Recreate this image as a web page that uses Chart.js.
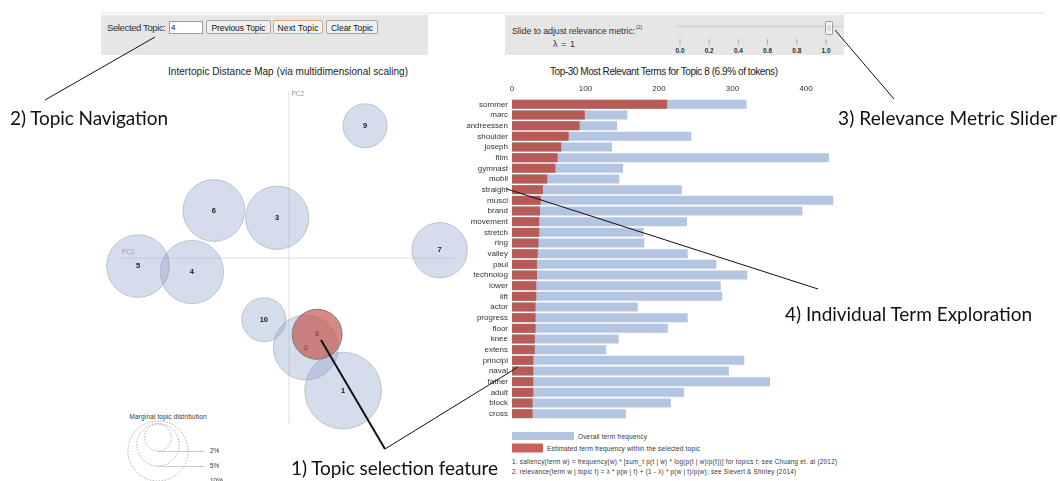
<!DOCTYPE html>
<html>
<head>
<meta charset="utf-8">
<script src="https://cdn.jsdelivr.net/npm/chart.js@4.4.1/dist/chart.umd.min.js"></script>
<style>
  body { margin: 0; width: 1060px; height: 481px; background: #fff; position: relative; overflow: hidden;
         font-family: "Liberation Sans", Arial, sans-serif; }
  #mapBox { position: absolute; left: 90px; top: 85px; width: 380px; height: 396px; }
  #barBox { position: absolute; left: 440px; top: 78px; width: 396px; height: 342px; }
  svg { position: absolute; left: 0; top: 0; }
  .lbl { font-family: "Liberation Sans", Arial, sans-serif; }
  .note { font-family: Lato, "Open Sans", sans-serif; font-size: 19px; fill: #111; }
</style>
</head>
<body>

<!-- controls, titles, bar legend and footnotes -->
<svg width="1060" height="481">
  <line x1="100" y1="13" x2="1045" y2="13" stroke="#e2e2e2" stroke-width="1"/>

  <rect x="101" y="15" width="327" height="40" fill="#e6e6e6"/>
  <text class="lbl" x="107" y="27" font-size="9.5" fill="#333" dominant-baseline="central" textLength="59">Selected Topic:</text>
  <rect x="169.5" y="21.5" width="33" height="12" fill="#fff" stroke="#9a9a9a"/>
  <text class="lbl" x="171" y="27.5" font-size="8" fill="#111" dominant-baseline="central">4</text>
  <rect x="206.5" y="20.5" width="64" height="13" rx="1.5" fill="#efefef" stroke="#a5a5a5"/>
  <text class="lbl" x="238.5" y="27.5" font-size="8.5" fill="#111" text-anchor="middle" dominant-baseline="central" textLength="54">Previous Topic</text>
  <rect x="273.5" y="20.5" width="49" height="13" rx="1.5" fill="#f2f2f2" stroke="#e2a47e"/>
  <text class="lbl" x="298" y="27.5" font-size="8.5" fill="#111" text-anchor="middle" dominant-baseline="central" textLength="41">Next Topic</text>
  <rect x="326.5" y="20.5" width="51" height="13" rx="1.5" fill="#efefef" stroke="#a5a5a5"/>
  <text class="lbl" x="352" y="27.5" font-size="8.5" fill="#111" text-anchor="middle" dominant-baseline="central" textLength="42">Clear Topic</text>

  <rect x="505" y="15" width="339" height="40" fill="#e6e6e6"/>
  <text class="lbl" x="512" y="30.5" font-size="9" fill="#333" dominant-baseline="central" textLength="123">Slide to adjust relevance metric:</text>
  <text class="lbl" x="636" y="27" font-size="5" fill="#333" dominant-baseline="central">(2)</text>
  <text class="lbl" x="553" y="43.5" font-size="9" fill="#333" dominant-baseline="central" textLength="22">λ = 1</text>
  <line x1="675" y1="26.5" x2="843" y2="26.5" stroke="#d6d6d6" stroke-width="2"/>
  <g id="sliderTicks"></g>
  <rect x="825.5" y="21.5" width="7" height="13" rx="1" fill="#f6f6f6" stroke="#9a9a9a"/>
  <line x1="827" y1="26" x2="831" y2="26" stroke="#aaa" stroke-width="0.6"/>
  <line x1="827" y1="28" x2="831" y2="28" stroke="#aaa" stroke-width="0.6"/>
  <line x1="827" y1="30" x2="831" y2="30" stroke="#aaa" stroke-width="0.6"/>

  <text class="lbl" x="288" y="71" font-size="10" fill="#222" text-anchor="middle" dominant-baseline="central" textLength="240">Intertopic Distance Map (via multidimensional scaling)</text>
  <text class="lbl" x="664" y="71" font-size="10" fill="#222" text-anchor="middle" dominant-baseline="central" textLength="228">Top-30 Most Relevant Terms for Topic 8 (6.9% of tokens)</text>

  <text class="lbl" x="168" y="416" font-size="6.5" fill="#333" text-anchor="middle" dominant-baseline="central" textLength="77">Marginal topic distribution</text>

  <rect x="512" y="432" width="62" height="8" fill="#b4c5e2"/>
  <text class="lbl" x="578" y="436" font-size="6.5" fill="#333" dominant-baseline="central" textLength="69">Overall term frequency</text>
  <rect x="512" y="443.5" width="31" height="9" fill="#c8625a"/>
  <text class="lbl" x="547" y="448" font-size="6.5" fill="#333" dominant-baseline="central" textLength="153">Estimated term frequency within the selected topic</text>
  <text class="lbl" x="512" y="461.5" font-size="6.3" fill="#333" dominant-baseline="central" textLength="325">1. saliency(term w) = frequency(w) * [sum_t p(t | w) * log(p(t | w)/p(t))] for topics t; see Chuang et. al (2012)</text>
  <text class="lbl" x="512" y="471.5" font-size="6.3" fill="#333" dominant-baseline="central" textLength="284">2. relevance(term w | topic t) = λ * p(w | t) + (1 - λ) * p(w | t)/p(w); see Sievert &amp; Shirley (2014)</text>
</svg>

<div id="mapBox"><canvas id="mapChart"></canvas></div>
<div id="barBox"><canvas id="barChart"></canvas></div>

<!-- callout annotations -->
<svg width="1060" height="481" style="pointer-events:none">
  <line x1="45" y1="100" x2="155" y2="37" stroke="#111" stroke-width="1"/>
  <line x1="835" y1="30" x2="894" y2="99" stroke="#111" stroke-width="1"/>
  <line x1="507" y1="189" x2="818" y2="289" stroke="#111" stroke-width="1"/>
  <line x1="385" y1="449" x2="321" y2="340" stroke="#111" stroke-width="2"/>
  <line x1="385" y1="449" x2="518" y2="367" stroke="#111" stroke-width="1"/>
  <text class="note" x="10" y="117" dominant-baseline="central" textLength="158">2) Topic Navigation</text>
  <text class="note" x="838" y="117" dominant-baseline="central" textLength="219">3) Relevance Metric Slider</text>
  <text class="note" x="785" y="313" dominant-baseline="central" textLength="247">4) Individual Term Exploration</text>
  <text class="note" x="291" y="467" dominant-baseline="central" textLength="207">1) Topic selection feature</text>
</svg>

<script>
// relevance slider ticks
const lambdaTicks = ['0.0', '0.2', '0.4', '0.6', '0.8', '1.0'];

// topics on the intertopic map (PC1 / PC2 coordinates, share of tokens in %)
const topicIds = ['1', '2', '3', '4', '5', '6', '7', '8', '9', '10'];
const topicPC1 = [0.082, 0.026, -0.017, -0.145, -0.226, -0.112, 0.227, 0.043, 0.115, -0.037];
const topicPC2 = [-0.201, -0.136, 0.060, -0.022, -0.013, 0.071, 0.011, -0.116, 0.199, -0.094];
const topicShare = [16.3, 11.7, 11.1, 11.1, 10.9, 10.6, 8.5, 6.9, 5.4, 5.4];
const selectedTopic = '8';
const marginalLegend = [2, 5, 10];

// top-30 terms for topic 8
const terms = ['sommer', 'marc', 'andreessen', 'shoulder', 'joseph', 'film', 'gymnast', 'mobil', 'straight', 'muscl',
  'brand', 'movement', 'stretch', 'ring', 'valley', 'paul', 'technolog', 'lower', 'lift', 'actor',
  'progress', 'floor', 'knee', 'extens', 'principl', 'naval', 'father', 'adult', 'block', 'cross'];
const overallFreq = [319, 157, 143, 244, 136, 431, 151, 146, 231, 437,
  395, 238, 179, 180, 239, 278, 320, 284, 286, 171,
  239, 212, 145, 128, 316, 295, 351, 234, 216, 155];
const topicFreq = [211, 99, 92, 77, 67, 62, 59, 48, 42, 39,
  38, 37, 37, 36, 35, 34, 34, 33, 33, 32,
  32, 32, 31, 31, 29, 29, 29, 29, 28, 28];

Chart.defaults.font.family = '"Liberation Sans", Arial, sans-serif';

// slider tick marks
const ns = 'http://www.w3.org/2000/svg';
const tg = document.getElementById('sliderTicks');
lambdaTicks.forEach((t, i) => {
  const x = 680 + i * 29.2;
  const l = document.createElementNS(ns, 'line');
  l.setAttribute('x1', x); l.setAttribute('x2', x);
  l.setAttribute('y1', 39); l.setAttribute('y2', 45);
  l.setAttribute('stroke', '#aaa');
  tg.appendChild(l);
  const tx = document.createElementNS(ns, 'text');
  tx.setAttribute('x', x); tx.setAttribute('y', 50.5);
  tx.setAttribute('text-anchor', 'middle');
  tx.setAttribute('dominant-baseline', 'central');
  tx.setAttribute('font-size', '6.5');
  tx.setAttribute('font-weight', 'bold');
  tx.setAttribute('fill', '#333');
  tx.setAttribute('class', 'lbl');
  tx.textContent = t;
  tg.appendChild(tx);
});

// bubble radius from share of tokens (area proportional)
const radiusFor = share => 9.5 * Math.sqrt(share);

const selectedPts = [], otherPts = [];
topicIds.forEach((id, i) => {
  const p = { x: topicPC1[i], y: topicPC2[i], r: radiusFor(topicShare[i]), id: id };
  (id === selectedTopic ? selectedPts : otherPts).push(p);
});

// PC axes and their labels
const pcAxes = {
  id: 'pcAxes',
  beforeDatasetsDraw(chart) {
    const { ctx, chartArea: a, scales } = chart;
    const x0 = scales.x.getPixelForValue(0);
    const y0 = scales.y.getPixelForValue(0);
    ctx.save();
    ctx.strokeStyle = '#dcdcdc';
    ctx.lineWidth = 1;
    ctx.beginPath();
    ctx.moveTo(a.left, y0 + 0.5); ctx.lineTo(a.right, y0 + 0.5);
    ctx.moveTo(x0 + 0.5, a.top); ctx.lineTo(x0 + 0.5, a.bottom);
    ctx.stroke();
    ctx.fillStyle = '#999';
    ctx.font = '6.5px "Liberation Sans", Arial, sans-serif';
    ctx.textBaseline = 'middle';
    ctx.fillText('PC1', a.left, y0 - 5);
    ctx.fillText('PC2', x0 + 3, a.top + 2.5);
    ctx.restore();
  }
};

// topic numbers, drawn just before the selected circle so it tints them
const topicLabels = {
  id: 'topicLabels',
  beforeDatasetDraw(chart, args) {
    if (args.index !== 0) return;
    const ctx = chart.ctx;
    ctx.save();
    ctx.font = 'bold 7.5px "Liberation Sans", Arial, sans-serif';
    ctx.textAlign = 'center';
    ctx.textBaseline = 'middle';
    ctx.fillStyle = '#1a1a1a';
    [0, 1].forEach(di => {
      const meta = chart.getDatasetMeta(di);
      meta.data.forEach((el, j) => {
        const pt = chart.data.datasets[di].data[j];
        ctx.fillText(pt.id, el.x, el.y);
      });
    });
    ctx.restore();
  }
};

// marginal topic distribution legend (dotted circles)
const marginalKey = {
  id: 'marginalKey',
  afterDraw(chart) {
    const ctx = chart.ctx;
    const cx = 68;
    ctx.save();
    ctx.font = '6.5px "Liberation Sans", Arial, sans-serif';
    ctx.textBaseline = 'middle';
    marginalLegend.forEach((v, i) => {
      const r = radiusFor(v);
      const bottom = 366 + i * 15;
      ctx.strokeStyle = '#aaa';
      ctx.setLineDash([1.5, 1.5]);
      ctx.beginPath();
      ctx.arc(cx, bottom - r, r, 0, Math.PI * 2);
      ctx.stroke();
      ctx.setLineDash([]);
      ctx.strokeStyle = '#ccc';
      ctx.beginPath();
      ctx.moveTo(cx, bottom + 0.5); ctx.lineTo(115, bottom + 0.5);
      ctx.stroke();
      ctx.fillStyle = '#333';
      ctx.fillText(v + '%', 120, bottom);
    });
    ctx.restore();
  }
};

new Chart(document.getElementById('mapChart'), {
  type: 'bubble',
  data: {
    datasets: [
      { data: selectedPts, backgroundColor: 'rgba(196,88,78,0.7)', borderColor: '#7a7a7a', borderWidth: 1, order: 0, clip: false },
      { data: otherPts, backgroundColor: 'rgba(145,163,202,0.38)', borderColor: 'rgba(120,135,165,0.4)', borderWidth: 1, order: 1, clip: false }
    ]
  },
  options: {
    responsive: true,
    maintainAspectRatio: false,
    animation: false,
    events: [],
    layout: { autoPadding: false, padding: { left: 32, right: 15, top: 7, bottom: 58 } },
    plugins: { legend: { display: false }, tooltip: { enabled: false } },
    scales: {
      x: { display: false, min: -0.25, max: 0.25 },
      y: { display: false, min: -0.25, max: 0.25 }
    }
  },
  plugins: [pcAxes, topicLabels, marginalKey]
});

new Chart(document.getElementById('barChart'), {
  type: 'bar',
  data: {
    labels: terms,
    datasets: [
      { label: 'Estimated term frequency within the selected topic', data: topicFreq, backgroundColor: '#b85a55', grouped: false, order: 0 },
      { label: 'Overall term frequency', data: overallFreq, backgroundColor: '#b4c5e2', grouped: false, order: 1 }
    ]
  },
  options: {
    indexAxis: 'y',
    responsive: true,
    maintainAspectRatio: false,
    animation: false,
    events: [],
    datasets: { bar: { categoryPercentage: 1, barPercentage: 0.84 } },
    layout: { autoPadding: false, padding: { left: 0, right: 2, top: 0, bottom: 1 } },
    plugins: { legend: { display: false }, tooltip: { enabled: false } },
    scales: {
      x: {
        position: 'top', min: 0, max: 438,
        ticks: { stepSize: 100, includeBounds: false, font: { size: 8 }, color: '#333', padding: 5 },
        grid: { display: false, drawTicks: false },
        border: { display: false },
        afterFit(s) { s.height = 21; s.paddingLeft = 0; s.paddingRight = 0; }
      },
      y: {
        ticks: { autoSkip: false, font: { size: 8 }, color: '#333', padding: 4 },
        grid: { display: false, drawTicks: false },
        border: { display: false },
        afterFit(s) { s.width = 72; s.paddingTop = 0; s.paddingBottom = 0; }
      }
    }
  }
});
</script>
</body>
</html>
